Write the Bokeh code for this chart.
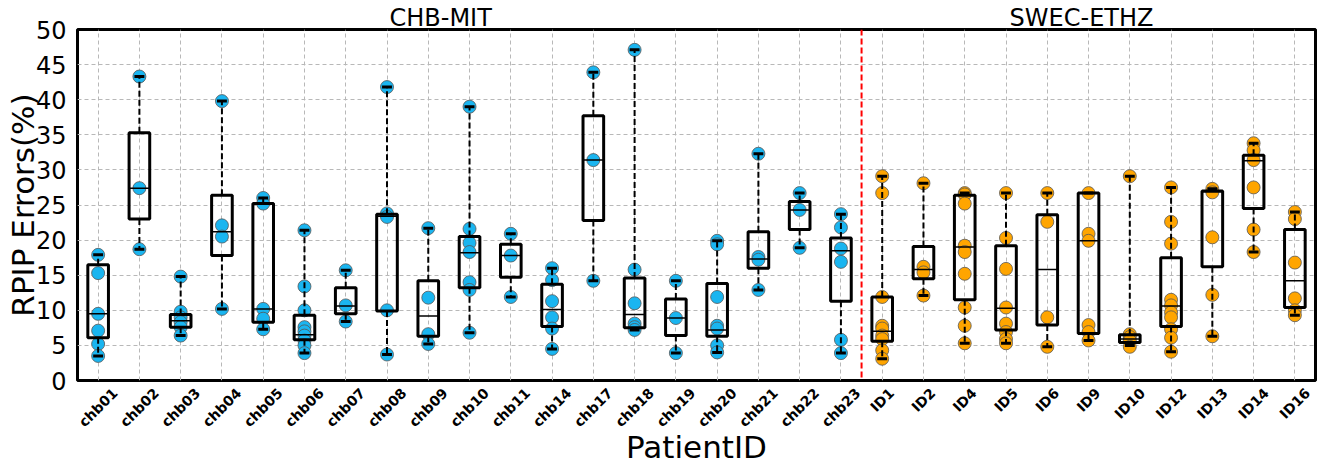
import numpy as np
from bokeh.plotting import figure
from bokeh.models import ColumnDataSource, FixedTicker, Span, LinearAxis
from bokeh.embed import file_html
from bokeh.resources import INLINE

patients = ["chb01", "chb02", "chb03", "chb04", "chb05", "chb06", "chb07", "chb08", "chb09", "chb10",
            "chb11", "chb14", "chb17", "chb18", "chb19", "chb20", "chb21", "chb22", "chb23",
            "ID1", "ID2", "ID4", "ID5", "ID6", "ID9", "ID10", "ID12", "ID13", "ID14", "ID16"]

points = [
    [17.9, 15.3, 9.5, 7.1, 5.2, 3.5],
    [43.3, 27.4, 18.7],
    [14.8, 9.8, 9.0, 8.3, 7.6, 6.4],
    [39.8, 22.1, 20.5, 10.2],
    [26.0, 25.2, 10.2, 8.8, 7.3],
    [21.4, 13.4, 10.0, 7.6, 7.0, 6.4, 5.7, 5.0, 3.9],
    [15.7, 10.7, 8.4],
    [41.8, 23.8, 23.3, 10.0, 3.7],
    [21.7, 11.8, 6.6, 5.2],
    [39.0, 21.6, 19.6, 18.3, 14.0, 12.9, 6.8],
    [20.9, 17.8, 11.9],
    [16.0, 14.3, 11.3, 9.0, 7.4, 4.5],
    [43.9, 31.4, 14.2],
    [47.1, 15.8, 11.0, 8.1, 7.6, 7.2],
    [14.2, 8.9, 3.9],
    [19.9, 19.4, 11.9, 7.8, 7.4, 5.0, 4.0],
    [32.3, 17.6, 17.2, 12.9],
    [26.7, 24.3, 18.9],
    [23.7, 21.8, 18.8, 16.9, 5.8, 3.9],
    [29.1, 26.7, 11.9, 7.8, 7.4, 6.4, 5.9, 4.3, 3.1],
    [28.1, 16.2, 15.4, 12.1],
    [26.7, 26.5, 25.2, 19.2, 18.3, 15.2, 10.4, 7.8, 5.3],
    [26.7, 20.3, 15.9, 10.4, 8.1, 6.9, 5.9, 5.3],
    [26.7, 22.6, 9.0, 4.8],
    [26.7, 20.9, 19.9, 7.9, 6.9, 5.7],
    [29.1, 6.6, 6.2, 5.7, 4.8],
    [27.5, 22.6, 19.5, 11.5, 10.7, 9.7, 9.0, 7.3, 6.1, 4.1],
    [27.3, 26.8, 20.4, 12.2, 6.3],
    [33.8, 32.8, 31.4, 27.5, 21.5, 18.3],
    [24.0, 23.0, 16.8, 11.7, 10.0, 9.3],
]

q1 = [6.1, 23.0, 7.6, 17.8, 8.3, 5.8, 9.5, 9.9, 6.3, 13.2, 14.7, 7.7, 22.8, 7.5, 6.4, 6.3, 16.0, 21.5, 11.3,
      5.6, 14.5, 11.5, 7.2, 7.9, 6.7, 5.4, 7.7, 16.2, 24.5, 10.4]
med = [9.5, 27.4, 8.5, 21.2, 10.2, 6.5, 10.6, 23.4, 9.2, 18.2, 17.8, 10.1, 31.4, 9.4, 8.9, 7.2, 17.3, 24.3, 18.5,
       7.0, 15.8, 19.0, 10.3, 15.8, 19.9, 5.9, 10.6, 26.9, 31.3, 14.2]
q3 = [16.5, 35.3, 9.4, 26.4, 25.2, 9.3, 13.2, 23.7, 14.2, 20.5, 19.4, 13.7, 37.7, 14.6, 11.6, 13.8, 21.2, 25.5, 20.3,
      11.9, 19.1, 26.4, 19.2, 23.6, 26.7, 6.5, 17.5, 27.0, 32.1, 21.5]
lo = [3.5, 18.7, 6.4, 10.2, 7.3, 3.9, 8.4, 3.7, 5.2, 6.8, 11.9, 4.5, 14.2, 7.2, 3.9, 4.0, 12.9, 18.9, 3.9,
      3.1, 12.1, 5.3, 5.3, 4.8, 5.7, 5.0, 4.1, 6.3, 18.3, 9.3]
hi = [17.9, 43.3, 14.8, 39.8, 26.0, 21.4, 15.7, 41.8, 21.7, 39.0, 20.9, 16.0, 43.9, 47.1, 14.2, 19.9, 32.3, 26.7, 23.7,
      29.1, 28.1, 26.7, 26.7, 26.7, 26.7, 29.1, 27.5, 27.3, 33.8, 24.0]

group_titles = ["CHB-MIT", "SWEC-ETHZ"]
n_chb = 19
yticks = list(range(0, 51, 5))

FONT = "DejaVu Sans"
BLUE = "#1AB5F0"
ORANGE = "#FFA500"

xs = np.arange(len(patients))
PX_PER_UNIT = 1238 / len(patients)

p = figure(frame_width=1238, frame_height=351, x_range=(-0.5, len(patients) - 0.5), y_range=(0, 50),
           output_backend="svg", toolbar_location=None, x_axis_location=None,
           min_border_left=77, min_border_right=16, min_border_top=29, min_border_bottom=89)

p.outline_line_color = "black"
p.outline_line_width = 3

# y axis
p.yaxis.axis_line_color = None
p.yaxis.major_tick_line_color = None
p.yaxis.minor_tick_line_color = None
p.yaxis.ticker = FixedTicker(ticks=yticks)
p.yaxis.major_label_text_font = FONT
p.yaxis.major_label_text_font_size = "24px"
p.yaxis.major_label_text_color = "black"
p.yaxis.major_label_standoff = 5
p.yaxis.axis_label = "RPIP Errors(%)"
p.yaxis.axis_label_text_font = FONT
p.yaxis.axis_label_text_font_style = "normal"
p.yaxis.axis_label_text_font_size = "31px"
p.yaxis.axis_label_text_color = "black"
p.yaxis.axis_label_standoff = -8

# x axis: rotated labels centred under each category (matplotlib style)
TFS = 14
CW = {"c": 0.593, "h": 0.712, "b": 0.716, "I": 0.372, "D": 0.830}
tick_pos, overrides = [], {}
for i, name in enumerate(patients):
    L = sum(CW.get(ch, 0.696) for ch in name) * TFS
    W = (L + TFS) / 2 ** 0.5
    dx = (W / 2 - 0.354 * TFS) / PX_PER_UNIT
    pos = round(float(i + dx), 4)
    tick_pos.append(pos)
    overrides[pos] = name

xax = LinearAxis(ticker=FixedTicker(ticks=tick_pos), major_label_overrides=overrides,
                 major_label_orientation=np.pi / 4, major_label_standoff=10,
                 major_label_text_font=FONT, major_label_text_font_style="bold",
                 major_label_text_font_size=f"{TFS}px", major_label_text_color="black",
                 axis_line_color=None, major_tick_line_color=None, minor_tick_line_color=None,
                 major_tick_out=0, minor_tick_out=0,
                 axis_label="PatientID", axis_label_text_font=FONT, axis_label_text_font_style="normal",
                 axis_label_text_font_size="31px", axis_label_text_color="black", axis_label_standoff=-10)
p.add_layout(xax, "below")

# group titles
gax = LinearAxis(ticker=FixedTicker(ticks=[8.3, 23.83]), major_label_overrides={8.3: group_titles[0], 23.83: group_titles[1]},
                 major_label_standoff=-2, major_label_text_font=FONT, major_label_text_font_size="24px",
                 major_label_text_color="black", axis_line_color=None, major_tick_line_color=None,
                 minor_tick_line_color=None, major_tick_out=0, minor_tick_out=0)
p.add_layout(gax, "above")

for g in (p.xgrid, p.ygrid):
    g.grid_line_color = "#b8b8b8"
    g.grid_line_dash = "4 3"
    g.grid_line_width = 1
p.xgrid.ticker = FixedTicker(ticks=list(xs))
p.ygrid.ticker = FixedTicker(ticks=yticks)

# points
px, py, pc = [], [], []
for i, vals in enumerate(points):
    for v in vals:
        px.append(int(i))
        py.append(v)
        pc.append(BLUE if i < n_chb else ORANGE)
p.scatter(x="x", y="y", source=ColumnDataSource(dict(x=px, y=py, c=pc)), size=13,
          fill_color="c", line_color="#555555", line_width=0.8)

bw = 0.25
cw = 0.12
src = ColumnDataSource(dict(x=xs, l=xs - bw, r=xs + bw, cl=xs - cw, cr=xs + cw,
                            q1=q1, med=med, q3=q3, lo=lo, hi=hi))
p.segment(x0="x", y0="q3", x1="x", y1="hi", source=src, line_color="black", line_width=2, line_dash="6 3")
p.segment(x0="x", y0="q1", x1="x", y1="lo", source=src, line_color="black", line_width=2, line_dash="6 3")
p.segment(x0="cl", y0="hi", x1="cr", y1="hi", source=src, line_color="black", line_width=3)
p.segment(x0="cl", y0="lo", x1="cr", y1="lo", source=src, line_color="black", line_width=3)
p.quad(left="l", right="r", bottom="q1", top="q3", source=src, fill_color=None, line_color="black", line_width=3)
p.segment(x0="l", y0="med", x1="r", y1="med", source=src, line_color="black", line_width=1.5)

p.add_layout(Span(location=n_chb - 0.5, dimension="height", line_color="red", line_width=2, line_dash="6 3"))

open("out.html", "w").write(file_html(p, INLINE))
